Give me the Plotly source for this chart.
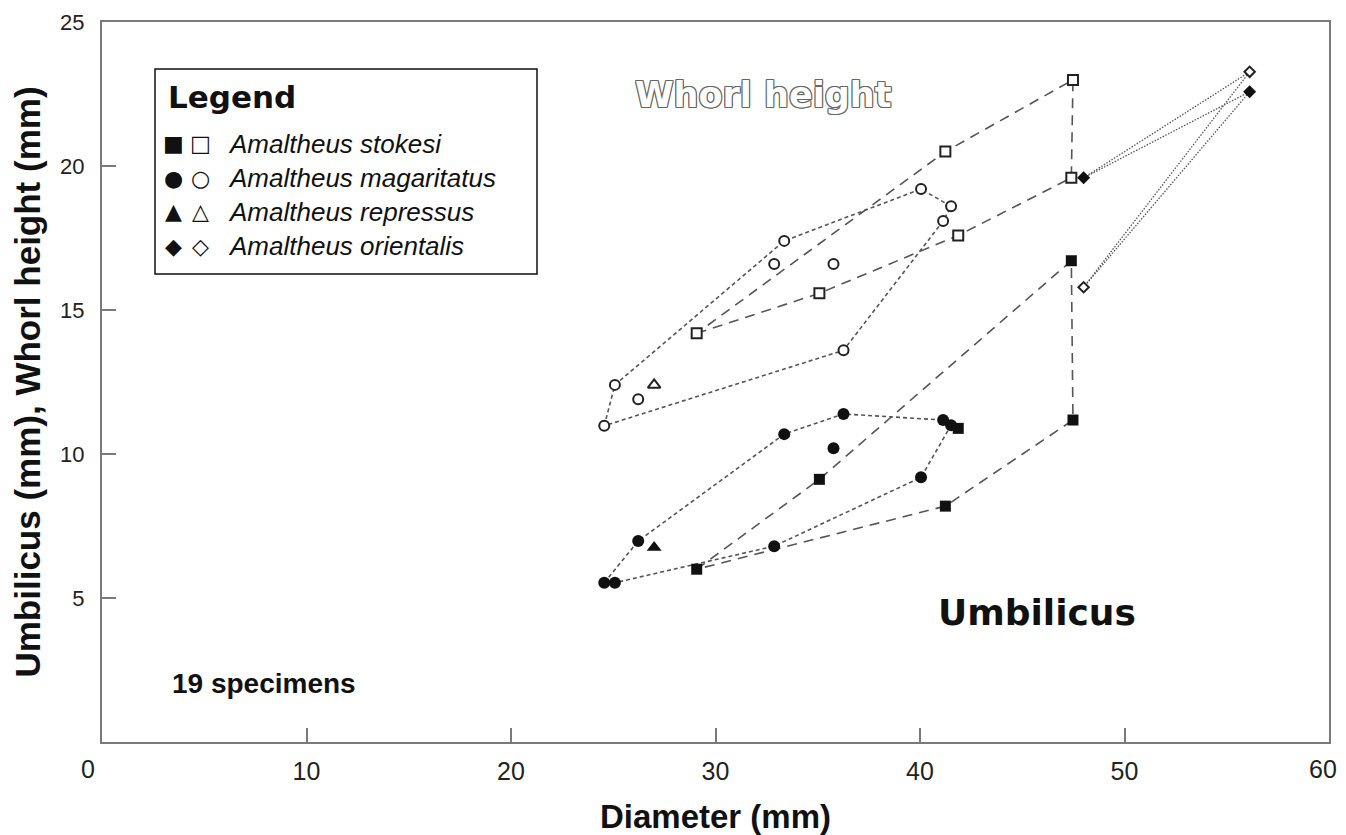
import plotly.graph_objects as go

# ---------------- data ----------------
stokesi_diam = [29.08, 35.08, 41.24, 41.87, 47.40, 47.48]
stokesi_whorl = [14.19, 15.58, 20.50, 17.59, 19.59, 22.99]
stokesi_umb = [6.00, 9.12, 8.19, 10.89, 16.71, 11.18]
stokesi_whorl_path = [0, 1, 3, 4, 5, 2, 0]
stokesi_umb_path = [0, 1, 4, 5, 2, 0]

magar_diam = [24.56, 25.08, 26.22, 32.87, 33.36, 35.77, 36.26, 40.05, 41.13, 41.52]
magar_whorl = [10.98, 12.40, 11.90, 16.60, 17.40, 16.60, 13.60, 19.20, 18.09, 18.60]
magar_umb = [5.53, 5.53, 6.98, 6.80, 10.69, 10.20, 11.39, 9.19, 11.18, 11.00]
magar_whorl_path = [0, 1, 4, 7, 9, 8, 6, 0]
magar_umb_path = [0, 2, 4, 6, 8, 9, 7, 3, 1, 0]

repr_diam = [27.00]
repr_whorl = [12.40]
repr_umb = [6.75]

orient_diam = [48.00, 56.12]
orient_open = [15.79, 23.27]
orient_filled = [19.59, 22.58]
# closed loop: (series, index)
orient_path = [("filled", 0), ("open", 1), ("open", 0), ("filled", 1), ("filled", 0)]

x_ticks = [10, 20, 30, 40, 50]
y_ticks = [5, 10, 15, 20, 25]
x_end_labels = ["0", "60"]   # the two end labels sit slightly off their ticks

legend_rows = ["Amaltheus stokesi", "Amaltheus magaritatus",
               "Amaltheus repressus", "Amaltheus orientalis"]
legend_filled = ["■", "●", "▲", "◆"]
legend_open = ["□", "○", "△", "◇"]

# ---------------- styles ----------------
LINE_COL = "#555555"
FILL_COL = "#111111"
OPEN_LINE = "#222222"
STOKESI_DASH = "10px,7px"
MAGAR_DASH = "4px,3px"
ORIENT_DASH = "1.5px,1.5px"

fig = go.Figure()


def path_xy(xs, ys, order):
    return [xs[i] for i in order], [ys[i] for i in order]


def add_path(xs, ys, dash, width=1.6):
    fig.add_trace(go.Scatter(x=xs, y=ys, mode="lines",
                             line=dict(color=LINE_COL, width=width, dash=dash),
                             hoverinfo="skip", showlegend=False))


# lines
add_path(*path_xy(stokesi_diam, stokesi_whorl, stokesi_whorl_path), STOKESI_DASH)
add_path(*path_xy(stokesi_diam, stokesi_umb, stokesi_umb_path), STOKESI_DASH)
add_path(*path_xy(magar_diam, magar_whorl, magar_whorl_path), MAGAR_DASH)
add_path(*path_xy(magar_diam, magar_umb, magar_umb_path), MAGAR_DASH)
series = {"open": orient_open, "filled": orient_filled}
add_path([orient_diam[i] for s, i in orient_path],
         [series[s][i] for s, i in orient_path], ORIENT_DASH, width=1.3)


def add_markers(xs, ys, symbol, size, filled):
    if filled:
        marker = dict(symbol=symbol, size=size, color=FILL_COL,
                      line=dict(color=FILL_COL, width=0))
    else:
        marker = dict(symbol=symbol, size=size, color="white",
                      line=dict(color=OPEN_LINE, width=2))
    fig.add_trace(go.Scatter(x=xs, y=ys, mode="markers", marker=marker,
                             hoverinfo="x+y", showlegend=False))


add_markers(stokesi_diam, stokesi_whorl, "square", 10, False)
add_markers(stokesi_diam, stokesi_umb, "square", 11, True)
add_markers(magar_diam, magar_whorl, "circle", 10, False)
add_markers(magar_diam, magar_umb, "circle", 12, True)
add_markers(repr_diam, repr_whorl, "triangle-up", 11, False)
add_markers(repr_diam, repr_umb, "triangle-up", 13, True)
add_markers(orient_diam, orient_open, "diamond", 8, False)
add_markers(orient_diam, orient_filled, "diamond", 10, True)

# ---------------- layout ----------------
# the page body has an 8px margin, so the figure starts at (8, 8)
OFF = 8
PLOT_L, PLOT_T, PLOT_W, PLOT_H = 102, 22, 1227, 720   # page coords of plot area
W, H = 1338, 827
L, T = PLOT_L - OFF, PLOT_T - OFF
R = W - L - PLOT_W
B = H - T - PLOT_H


def px(xp):
    return (xp - PLOT_L) / PLOT_W


def py(yp):
    return (PLOT_T + PLOT_H - yp) / PLOT_H


AX_COL = "#7a7a7a"
YTICK_FONT = dict(family="Liberation Sans, Arial, sans-serif", size=22, color="#222")
XTICK_FONT = dict(family="Liberation Sans Narrow, Arial Narrow, Liberation Sans, sans-serif",
                  size=25, color="#222")
XTITLE_FONT = dict(family="Liberation Sans, Arial, sans-serif", size=33, color="#111",
                   weight="bold")
YTITLE_FONT = dict(family="Liberation Sans, Arial, sans-serif", size=35, color="#111",
                   weight="bold")

fig.update_layout(
    width=W, height=H,
    margin=dict(l=L, r=R, t=T, b=B, autoexpand=False),
    paper_bgcolor="white", plot_bgcolor="white",
    showlegend=False,
    xaxis=dict(range=[0, 60], tickvals=x_ticks, ticktext=[str(v) for v in x_ticks],
               showgrid=False, zeroline=False, showline=True, mirror=True,
               linecolor=AX_COL, linewidth=2, ticks="inside", ticklen=14,
               tickwidth=1.5, tickcolor=AX_COL, tickfont=XTICK_FONT,
               ticklabelstandoff=6,
               title=dict(text="Diameter (mm)", font=XTITLE_FONT, standoff=24)),
    yaxis=dict(range=[0, 25], tickvals=y_ticks, ticktext=[str(v) for v in y_ticks],
               showgrid=False, zeroline=False, showline=True, mirror=True,
               linecolor=AX_COL, linewidth=2, ticks="inside", ticklen=14,
               tickwidth=1.5, tickcolor=AX_COL, tickfont=YTICK_FONT,
               ticklabelstandoff=11,
               title=dict(text="Umbilicus (mm), Whorl height (mm)", font=YTITLE_FONT,
                          standoff=12)),
)

ann = []
# end labels of the diameter axis
for label, xpage in zip(x_end_labels, [88, 1323]):
    ann.append(dict(text=label, x=px(xpage), y=py(769), xref="paper", yref="paper",
                    showarrow=False, xanchor="center", yanchor="middle",
                    font=XTICK_FONT))
# in-plot labels
shadow = ", ".join(f"{dx}px {dy}px 0 #666" for dx, dy in
                   [(1, 0), (-1, 0), (0, 1), (0, -1), (1, 1), (-1, -1), (1, -1), (-1, 1)])
ann.append(dict(text="Whorl height", x=px(763), y=py(95), xref="paper", yref="paper",
                showarrow=False, xanchor="center", yanchor="middle",
                font=dict(family="DejaVu Sans, sans-serif", size=35, color="white",
                          weight="bold", shadow=shadow)))
ann.append(dict(text="Umbilicus", x=px(1037), y=py(612), xref="paper", yref="paper",
                showarrow=False, xanchor="center", yanchor="middle",
                font=dict(family="DejaVu Sans, sans-serif", size=36, color="#111",
                          weight="bold")))
ann.append(dict(text="19 specimens", x=px(170), y=py(683), xref="paper", yref="paper",
                showarrow=False, xanchor="left", yanchor="middle",
                font=dict(family="Liberation Sans, Arial, sans-serif", size=28,
                          color="#111", weight="bold")))
# legend box content
ann.append(dict(text="Legend", x=px(166), y=py(97), xref="paper", yref="paper",
                showarrow=False, xanchor="left", yanchor="middle",
                font=dict(family="DejaVu Sans, sans-serif", size=31, color="#111",
                          weight="bold")))
row_y = [144, 178, 212, 246]
for i, name in enumerate(legend_rows):
    ann.append(dict(text=legend_filled[i], x=px(173), y=py(row_y[i]), xref="paper",
                    yref="paper", showarrow=False, xanchor="center", yanchor="middle",
                    font=dict(family="DejaVu Sans, sans-serif", size=22, color="#111")))
    ann.append(dict(text=legend_open[i], x=px(200), y=py(row_y[i]), xref="paper",
                    yref="paper", showarrow=False, xanchor="center", yanchor="middle",
                    font=dict(family="DejaVu Sans, sans-serif", size=22, color="#111")))
    ann.append(dict(text=name, x=px(226), y=py(row_y[i]), xref="paper", yref="paper",
                    showarrow=False, xanchor="left", yanchor="middle",
                    font=dict(family="Liberation Sans, Arial, sans-serif", size=26,
                              color="#111", style="italic")))
fig.update_layout(annotations=ann)

fig.add_shape(type="rect", xref="paper", yref="paper",
              x0=px(155), x1=px(537), y0=py(274), y1=py(69),
              line=dict(color="#111", width=1.5), fillcolor="rgba(0,0,0,0)")

fig.write_html("out.html")
